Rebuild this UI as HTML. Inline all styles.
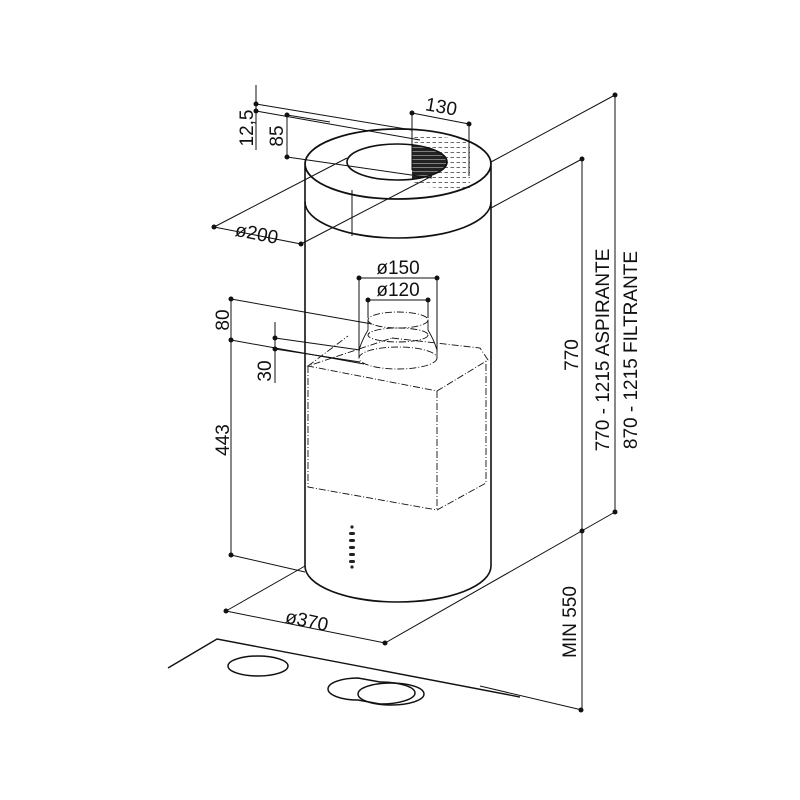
<!DOCTYPE html>
<html><head><meta charset="utf-8"><style>html,body{margin:0;padding:0;background:#fff}svg{display:block}</style></head>
<body>
<svg width="800" height="800" viewBox="0 0 800 800" xmlns="http://www.w3.org/2000/svg" font-family="Liberation Sans, sans-serif">
<defs>
<clipPath id="inner"><ellipse cx="397" cy="162" rx="50" ry="18"/></clipPath>
<pattern id="dash" width="6" height="5" patternUnits="userSpaceOnUse"><path d="M0.5 2.5h3.5" stroke="#444" stroke-width="0.8"/></pattern>
<pattern id="dark" width="8" height="4" patternUnits="userSpaceOnUse"><rect width="8" height="4" fill="#222"/><path d="M0 3.5h8" stroke="#bbb" stroke-width="0.6"/></pattern>
</defs>
<g fill="none" stroke="#111" stroke-width="1">
<path d="M412 134 L470 140 L470 190 L412 186 Z" fill="url(#dash)" stroke="none"/>
<rect x="412" y="140" width="40" height="45" fill="url(#dark)" stroke="none" clip-path="url(#inner)"/>
<ellipse cx="398" cy="164" rx="93" ry="35" stroke-width="1.8"/>
<ellipse cx="397" cy="162" rx="50" ry="18" stroke-width="1.6"/>
<path d="M305 166 V202 A93 36 0 0 0 491 202 V166" stroke-width="1.6"/>
<path d="M352 190 V236"/>
<path d="M305 202 V566 A93 36 0 0 0 491 566 V202" stroke-width="1.6"/>
<g stroke-dasharray="7 2 1 2" stroke-width="0.9">
<path d="M308 366 L348 336 M392 338 L480 348 L488 360 L437 391 L308 366 Z"/>
<path d="M308 366 V487 L437 510 L486 483 V360 M437 391 V510"/>
<ellipse cx="398" cy="320" rx="30" ry="8"/>
<ellipse cx="398" cy="358" rx="39" ry="11"/>
<ellipse cx="398" cy="335" rx="30" ry="7"/>
</g>
<path d="M368 320 V330 Q362 340 359 350 V358 M428 320 V330 Q434 340 437 350 V358" stroke-width="0.9"/>
<g fill="#222" stroke="none"><circle cx="352" cy="527" r="1.6"/><rect x="349" y="532" width="6" height="3" rx="1.5"/><rect x="349" y="539" width="6" height="3" rx="1.5"/><rect x="349" y="546" width="6" height="3" rx="1.5"/><rect x="349" y="553" width="6" height="3" rx="1.5"/><rect x="349" y="560" width="6" height="3" rx="1.5"/><circle cx="352" cy="567" r="1.6"/></g>
<path d="M256 85 V150 M256 104 L412 130 M256 111 L420 140"/>
<path d="M287 115 V157 M287 115 L330 122 M287 157 L432 178"/>
<path d="M412 113 V170 M469 124 V176 M412 113 L469 124"/>
<path d="M214 227 L347 158 M301 244 L432 176 M214 227 L301 244"/>
<path d="M359 278 H437 M359 278 V350 M437 278 V352 M368 300 H428 M368 300 V318 M428 300 V318"/>
<path d="M231 299 L372 324 M231 340 L364 364 M231 299 V555 M231 555 L305 572"/>
<path d="M275 322 V383 M275 338 L360 350 M275 349 L360 362"/>
<path d="M226 611 L305 566 M226 611 L385 643 L615 512 M615 95 V512 M491 162 L615 95 M491 208 L582 159 M582 159 V710 M480 686 L582 710"/>
<path d="M168 668 L217 639 L520 697" stroke-width="1.4"/>
<ellipse cx="258" cy="666" rx="30" ry="10" stroke-width="1.5"/>
<path d="M358 678 L380 682 A35 11 0 0 1 380 704 L358 700 A30 11 0 0 1 358 678 Z" stroke-width="1.5"/>
<ellipse cx="391" cy="694" rx="33" ry="11" stroke-width="1.5"/>
</g>
<g fill="#111">
<circle cx="256" cy="104" r="2.5"/><circle cx="256" cy="111" r="2.5"/><circle cx="287" cy="115" r="2.5"/><circle cx="287" cy="157" r="2.5"/>
<circle cx="412" cy="113" r="2.5"/><circle cx="469" cy="124" r="2.5"/><circle cx="214" cy="227" r="2.5"/><circle cx="301" cy="244" r="2.5"/>
<circle cx="359" cy="278" r="2.5"/><circle cx="437" cy="278" r="2.5"/><circle cx="368" cy="300" r="2.5"/><circle cx="428" cy="300" r="2.5"/>
<circle cx="231" cy="299" r="2.5"/><circle cx="231" cy="340" r="2.5"/><circle cx="231" cy="555" r="2.5"/>
<circle cx="275" cy="338" r="2.5"/><circle cx="275" cy="349" r="2.5"/>
<circle cx="226" cy="611" r="2.5"/><circle cx="385" cy="643" r="2.5"/>
<circle cx="615" cy="95" r="2.5"/><circle cx="615" cy="512" r="2.5"/><circle cx="582" cy="159" r="2.5"/><circle cx="582" cy="531" r="2.5"/><circle cx="581" cy="710" r="2.5"/>
</g>
<g fill="#111" font-size="19">
<text x="441" y="113" text-anchor="middle" transform="rotate(10 441 108)">130</text>
<text x="257" y="240" text-anchor="middle" transform="rotate(11 257 232)">ø200</text>
<text x="398" y="274" text-anchor="middle">ø150</text>
<text x="398" y="296" text-anchor="middle">ø120</text>
<text x="307" y="627" text-anchor="middle" transform="rotate(12 307 620)">ø370</text>
<text transform="translate(253 128) rotate(-90)" text-anchor="middle">12,5</text>
<text transform="translate(283 136) rotate(-90)" text-anchor="middle">85</text>
<text transform="translate(229 320) rotate(-90)" text-anchor="middle">80</text>
<text transform="translate(271 371) rotate(-90)" text-anchor="middle">30</text>
<text transform="translate(229 440) rotate(-90)" text-anchor="middle">443</text>
<text transform="translate(578 355) rotate(-90)" text-anchor="middle">770</text>
<text transform="translate(609 350) rotate(-90)" text-anchor="middle">770 - 1215 ASPIRANTE</text>
<text transform="translate(637 350) rotate(-90)" text-anchor="middle">870 - 1215 FILTRANTE</text>
<text transform="translate(576 622) rotate(-90)" text-anchor="middle">MIN 550</text>
</g>
</svg>
</body></html>
